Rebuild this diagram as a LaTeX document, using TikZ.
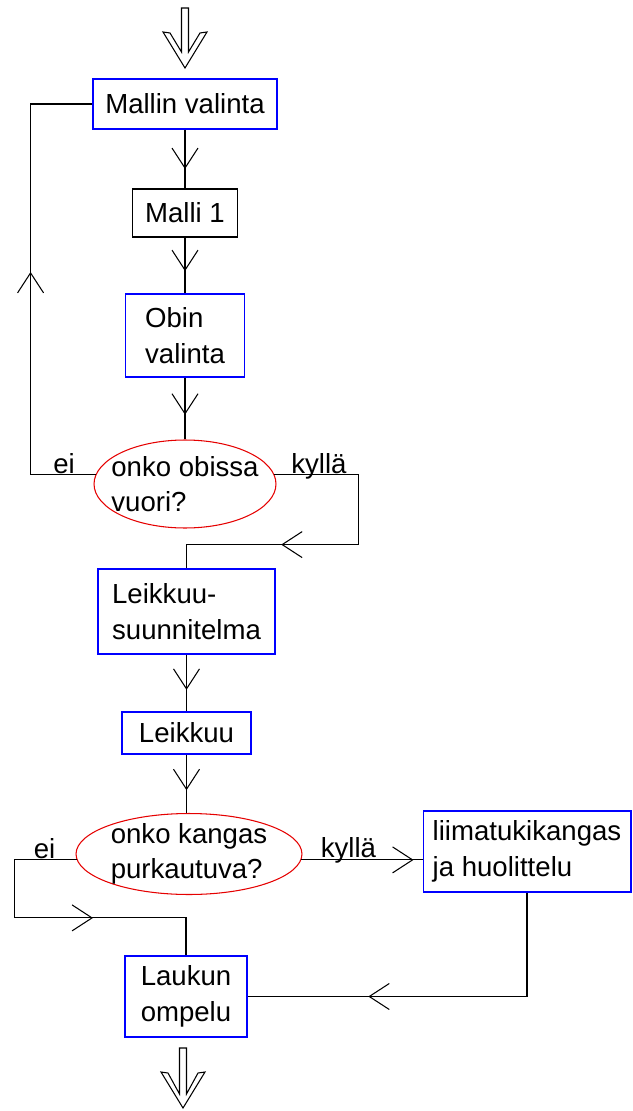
\documentclass[tikz,border=0pt]{standalone}
\usepackage{fontspec}
\setmainfont{Liberation Sans}
\usetikzlibrary{
  arrows.meta,
  shapes.geometric,
  decorations.markings
}
\tikzset{
  stepbox/.style={
    draw=blue,
    line width=0.6pt,
    align=left,
    inner sep=2pt,
  },
  plainbox/.style={
    stepbox,
    draw=black,
  },
  decision/.style={
    ellipse,
    draw=red!90!black,
    line width=0.6pt,
    inner sep=0pt,
  },
  dectext/.style={
    align=left,
    inner sep=0pt,
  },
  conn/.style={
    draw=black,
    line width=0.6pt,
  },
  midarr/.style={
    postaction={decorate},
    decoration={markings,
      mark=at position #1 with {\arrow{Straight Barb[length=4mm,width=5.2mm]}}},
  },
  lbl/.style={
    anchor=base,
    inner sep=0pt,
  },
  bigarrow/.style={
    draw=black,
    line width=0.6pt,
    line join=miter,
  },
}

\begin{document}
\begin{tikzpicture}[
  x=0.02cm, y=-0.02cm,
  font=\fontsize{15.7}{20.2}\selectfont,
]
  \useasboundingbox (0,0) rectangle (632,1111);

  % --- upper part ---
  \node[stepbox, minimum width=3.68cm, minimum height=1.0cm] (mallin) at (185,104) {Mallin valinta};
  \node[plainbox, minimum width=2.1cm, minimum height=0.96cm] (malli1) at (185,213) {Malli 1};
  \node[stepbox, minimum width=2.38cm, minimum height=1.66cm] (obin) at (185,335.5) {Obin\\valinta};
  \node[decision, minimum width=3.64cm, minimum height=1.76cm,
        label={[dectext]center:{onko obissa\\vuori?}}] (vuori) at (185,484) {};

  \draw[conn, midarr=0.67] (mallin) -- (malli1);
  \draw[conn, midarr=0.6] (malli1) -- (obin);
  \draw[conn, midarr=0.6] (obin) -- (vuori);

  % --- middle part ---
  \node[stepbox, minimum width=3.54cm, minimum height=1.7cm] (suunn) at (186.5,611.5) {Leikkuu-\\suunnitelma};
  \node[stepbox, minimum width=2.58cm, minimum height=0.84cm] (leikkuu) at (186.5,733) {Leikkuu};

  \draw[conn, midarr=0.538] (vuori.174) -- ++(-65,0) |- (mallin.west);
  \node[lbl] (ei1) at (64,473) {ei};
  \draw[conn, midarr=0.661] (vuori.6) -| ++(84,70) -| (suunn.north);
  \node[lbl] (kylla1) at (319,473) {kyllä};
  \draw[conn, midarr=0.62] (suunn) -- (leikkuu);

  % --- lower part ---
  \node[decision, minimum width=4.52cm, minimum height=1.62cm,
        label={[dectext]center:{onko kangas\\purkautuva?}}] (purk) at (189,854) {};
  \node[stepbox, minimum width=4.16cm, minimum height=1.62cm] (liima) at (527,851.5) {liimatukikangas\\ja huolittelu};
  \node[stepbox, minimum width=2.44cm, minimum height=1.62cm] (laukun) at (186,996.5) {Laukun\\ompelu};

  \draw[conn, midarr=0.61] (leikkuu.south) -- (leikkuu.south |- purk.north);
  \draw[conn, midarr=0.603] (purk.183) -| ++(-62,58) -| (laukun.north);
  \node[lbl] (ei2) at (44.5,858) {ei};
  \draw[conn, midarr=0.926] (purk.357) -- (purk.357 -| liima.west);
  \node[lbl] (kylla2) at (348.5,857) {kyllä};
  \draw[conn, midarr=0.685] (liima.south) |- (laukun.east);

  % --- in and out ---
  \draw[bigarrow, shift={(185,68)}] (-3.5,-60) -- (3.5,-60) -- (3.5,-16) -- (15,-35) -- (22,-36) -- (0,0)
    -- (-22,-36) -- (-15,-35) -- (-3.5,-16) -- cycle;
  \draw[bigarrow, shift={(183,1108)}] (-3.5,-60) -- (3.5,-60) -- (3.5,-14) -- (15,-35) -- (22,-36) -- (0,0)
    -- (-22,-36) -- (-15,-35) -- (-3.5,-14) -- cycle;
\end{tikzpicture}
\end{document}
